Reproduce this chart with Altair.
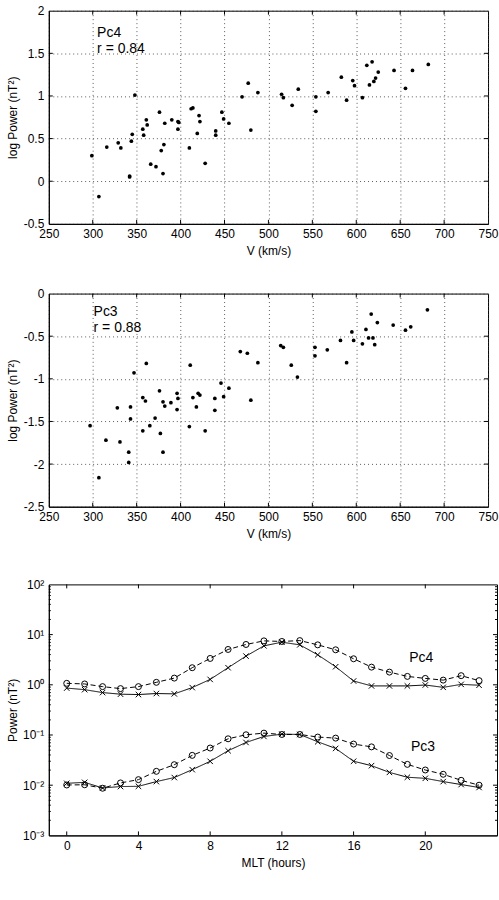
import altair as alt
import pandas as pd

FONT = "Liberation Sans"

# ---------------- data ----------------
# Top panel: Pc4 log power vs solar wind speed
pc4_v = [299, 307, 316, 329, 332, 342, 342, 344, 345, 348, 357, 358, 361, 362, 366, 372,
         376, 378, 380, 381, 382, 390, 397, 397, 398, 410, 412, 414, 419, 421, 422, 428,
         440, 440, 447, 449, 455, 470, 477, 480, 488, 515, 517, 527, 534, 554, 554, 568,
         583, 589, 596, 598, 607, 612, 615, 618, 620, 622, 625, 643, 656, 664, 682]
pc4_logp = [0.30, -0.18, 0.40, 0.45, 0.39, 0.06, 0.05, 0.47, 0.55, 1.01, 0.61, 0.54, 0.72, 0.66, 0.20, 0.17,
            0.81, 0.36, 0.09, 0.43, 0.68, 0.72, 0.61, 0.70, 0.69, 0.39, 0.85, 0.86, 0.56, 0.77, 0.70, 0.21,
            0.59, 0.54, 0.81, 0.73, 0.68, 0.99, 1.15, 0.60, 1.04, 1.02, 0.98, 0.89, 1.08, 0.99, 0.82, 1.04,
            1.22, 0.95, 1.18, 1.12, 0.98, 1.36, 1.13, 1.40, 1.17, 1.21, 1.28, 1.30, 1.09, 1.30, 1.37]

# Middle panel: Pc3 log power vs solar wind speed
pc3_v = [297, 307, 315, 328, 331, 341, 341, 343, 343, 347, 357, 357, 360, 361, 365, 371,
         376, 377, 380, 380, 382, 389, 396, 397, 396, 410, 411, 414, 418, 420, 422, 428,
         439, 439, 446, 449, 455, 468, 476, 480, 488, 514, 517, 526, 533, 553, 553, 567,
         582, 589, 595, 597, 607, 611, 614, 617, 619, 621, 624, 642, 656, 662, 681]
pc3_logp = [-1.55, -2.16, -1.72, -1.34, -1.74, -1.86, -1.98, -1.33, -1.47, -0.93, -1.22, -1.61, -1.26, -0.82, -1.55, -1.46,
            -1.14, -1.64, -1.27, -1.86, -1.32, -1.28, -1.17, -1.23, -1.36, -1.56, -0.84, -1.22, -1.33, -1.17, -1.19, -1.61,
            -1.23, -1.37, -1.05, -1.21, -1.11, -0.68, -0.70, -1.25, -0.81, -0.61, -0.63, -0.84, -0.98, -0.63, -0.73, -0.66,
            -0.55, -0.81, -0.45, -0.55, -0.59, -0.42, -0.52, -0.24, -0.52, -0.60, -0.34, -0.37, -0.43, -0.39, -0.19]

# Bottom panel: power vs MLT
mlt = list(range(24))
pc4_circle = [1.07, 1.04, 0.92, 0.84, 0.92, 1.12, 1.36, 2.19, 3.35, 5.06, 6.36, 7.5,
              7.3, 7.6, 6.25, 4.98, 3.3, 2.25, 1.79, 1.47, 1.34, 1.24, 1.52, 1.21]
pc4_cross = [0.86, 0.80, 0.70, 0.65, 0.64, 0.67, 0.66, 0.88, 1.28, 2.19, 3.73, 5.97,
             7.06, 6.25, 3.96, 2.29, 1.19, 0.95, 0.95, 0.95, 0.99, 0.89, 1.02, 0.98]
pc3_circle = [0.0101, 0.0102, 0.0087, 0.0111, 0.0129, 0.0189, 0.0256, 0.0393, 0.055, 0.084, 0.101, 0.109,
              0.1025, 0.1025, 0.091, 0.0867, 0.066, 0.058, 0.039, 0.026, 0.0201, 0.0165, 0.0125, 0.0100]
pc3_cross = [0.0109, 0.0114, 0.0088, 0.0094, 0.0095, 0.0118, 0.0142, 0.0204, 0.0299, 0.0486, 0.071, 0.0935,
             0.104, 0.1025, 0.0733, 0.054, 0.030, 0.0245, 0.018, 0.0144, 0.0137, 0.0118, 0.0103, 0.0090]

# tick values
v_ticks = [250, 300, 350, 400, 450, 500, 550, 600, 650, 700, 750]
top_yticks = [-0.5, 0, 0.5, 1, 1.5, 2]
mid_yticks = [-2.5, -2, -1.5, -1, -0.5, 0]
mlt_ticks = [0, 4, 8, 12, 16, 20]
pow_ticks = [0.001, 0.01, 0.1, 1, 10, 100]
pow_minor = [m * d for d in [0.001, 0.01, 0.1, 1, 10] for m in range(2, 10)]

# annotation texts
top_label = ["Pc4", "r = 0.84"]
top_label_v = [305, 305]
top_label_y = [1.69, 1.50]
mid_label = ["Pc3", "r = 0.88"]
mid_label_v = [301, 301]
mid_label_y = [-0.26, -0.45]
bot_label = ["Pc4", "Pc3"]
bot_label_x = [19.1, 19.2]
bot_label_y = [2.9, 0.047]

W1, H1 = 441, 214
W3, H3 = 450, 252
TL = 4  # inward tick length


def inward_ticks(xfield, xvals, yfield, yvals, W, H, L=TL, ylen=None):
    ylen = ylen or L
    dx = pd.DataFrame({xfield: xvals})
    dy = pd.DataFrame({yfield: yvals})
    st = dict(color="black", strokeWidth=1)
    out = []
    if xvals:
        out.append(alt.Chart(dx).mark_rule(**st).encode(x=f"{xfield}:Q", y=alt.value(H - L), y2=alt.value(H)))
        out.append(alt.Chart(dx).mark_rule(**st).encode(x=f"{xfield}:Q", y=alt.value(0), y2=alt.value(L)))
    if yvals:
        out.append(alt.Chart(dy).mark_rule(**st).encode(y=f"{yfield}:Q", x=alt.value(0), x2=alt.value(ylen)))
        out.append(alt.Chart(dy).mark_rule(**st).encode(y=f"{yfield}:Q", x=alt.value(W - ylen), x2=alt.value(W)))
    return out


def scatter(v, lp, ydom, yticks, lab, lab_v, lab_y):
    df = pd.DataFrame({"V": v, "logP": lp})
    pts = alt.Chart(df).mark_circle(size=14, color="black", opacity=1).encode(
        x=alt.X("V:Q",
                scale=alt.Scale(domain=[250, 750], nice=False, zero=False),
                axis=alt.Axis(values=v_ticks, title="V (km/s)", grid=True, labelExpr="'' + datum.value")),
        y=alt.Y("logP:Q",
                scale=alt.Scale(domain=ydom, nice=False, zero=False),
                axis=alt.Axis(values=yticks, title="log Power (nT²)", grid=True, labelExpr="'' + datum.value")),
    )
    tdf = pd.DataFrame({"V": lab_v, "logP": lab_y, "t": lab})
    txt = alt.Chart(tdf).mark_text(align="left", baseline="alphabetic", fontSize=14, font=FONT,
                                   color="black").encode(x="V:Q", y="logP:Q", text="t:N")
    ticks = inward_ticks("V", v_ticks[1:-1], "logP", yticks[1:-1], W1, H1)
    return alt.layer(pts, txt, *ticks).properties(width=W1, height=H1)


p1 = scatter(pc4_v, pc4_logp, [-0.5, 2], top_yticks, top_label, top_label_v, top_label_y)
p2 = scatter(pc3_v, pc3_logp, [-2.5, 0], mid_yticks, mid_label, mid_label_v, mid_label_y)

rows = []
for name, vals, kind in [("Pc4 o", pc4_circle, "circle"), ("Pc4 x", pc4_cross, "cross"),
                         ("Pc3 o", pc3_circle, "circle"), ("Pc3 x", pc3_cross, "cross")]:
    for h, p in zip(mlt, vals):
        rows.append({"MLT": h, "P": p, "series": name, "kind": kind})
bdf = pd.DataFrame(rows)

xenc = alt.X("MLT:Q", scale=alt.Scale(domain=[-1, 24], nice=False, zero=False),
             axis=alt.Axis(values=mlt_ticks, title="MLT (hours)", grid=False))
ylab = ("datum.value >= 50 ? '10²' : datum.value >= 5 ? '10¹' : datum.value >= 0.5 ? '10⁰' : "
        "datum.value >= 0.05 ? '10⁻¹' : datum.value >= 0.005 ? '10⁻²' : '10⁻³'")
yenc = alt.Y("P:Q", scale=alt.Scale(type="log", domain=[0.001, 100], nice=False),
             axis=alt.Axis(values=pow_ticks, title="Power (nT²)", grid=False, labelExpr=ylab))

lines = alt.Chart(bdf).mark_line(color="black", strokeWidth=1).encode(
    x=xenc, y=yenc, detail="series:N",
    strokeDash=alt.StrokeDash("kind:N", scale=alt.Scale(domain=["circle", "cross"], range=[[5, 3], [1, 0]]),
                              legend=None),
)
circles = alt.Chart(bdf).transform_filter(alt.datum.kind == "circle").mark_point(
    shape="circle", filled=False, size=36, color="black", strokeWidth=1, opacity=1).encode(x="MLT:Q", y="P:Q")
crosses = alt.Chart(bdf).transform_filter(alt.datum.kind == "cross").mark_point(
    shape="M-1,-1L1,1M-1,1L1,-1", filled=False, size=30, color="black", strokeWidth=1, opacity=1).encode(
    x="MLT:Q", y="P:Q")
btxt = alt.Chart(pd.DataFrame({"MLT": bot_label_x, "P": bot_label_y, "t": bot_label})).mark_text(
    align="left", baseline="alphabetic", fontSize=14, font=FONT, color="black").encode(
    x="MLT:Q", y="P:Q", text="t:N")
bticks = inward_ticks("MLT", mlt_ticks, "P", pow_ticks[1:-1], W3, H3)
bminor = inward_ticks("MLT", [], "P", pow_minor, W3, H3, ylen=2)
p3 = alt.layer(lines, circles, crosses, btxt, *bticks, *bminor).properties(width=W3, height=H3)

chart = alt.vconcat(alt.vconcat(p1, p2, spacing=29), p3, spacing=37).properties(
    padding={"left": 6, "top": 2, "right": 0, "bottom": 0}
).configure_view(stroke="black", strokeWidth=1).configure_axis(
    labelFont=FONT, titleFont=FONT, labelFontSize=12, titleFontSize=12, titleFontWeight="normal",
    labelColor="black", titleColor="black", domainColor="black", ticks=False, labelFlush=False,
    labelPadding=5, titlePadding=3, minExtent=26, maxExtent=26,
    gridColor="#333333", gridDash=[1, 3], gridWidth=1, gridOpacity=0.8,
).configure_axisX(titleY=31, titleBaseline="alphabetic")

chart.save("out.html", embed_options={"renderer": "svg", "actions": False})
